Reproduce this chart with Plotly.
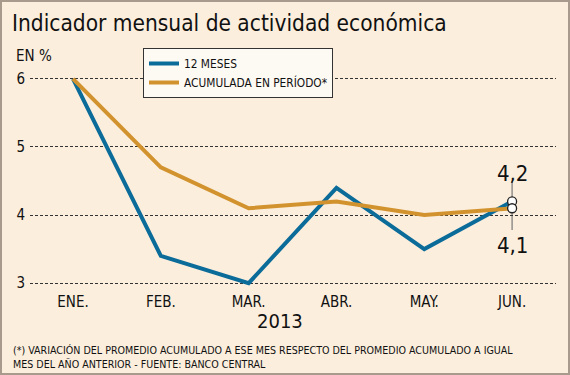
import plotly.graph_objects as go

months = ["ENE.", "FEB.", "MAR.", "ABR.", "MAY.", "JUN."]
doce_meses = [6.0, 3.4, 3.0, 4.4, 3.5, 4.2]
acumulada = [6.0, 4.7, 4.1, 4.2, 4.0, 4.1]
y_ticks = [3, 4, 5, 6]

BLUE = "#0b6b99"
ORANGE = "#d2932f"
BG = "#fbeedd"
FONT = "Liberation Sans Narrow, Arial Narrow, DejaVu Sans Condensed, Liberation Sans, sans-serif"

L, R, T, B = 30, 14, 72, 85
PW, PH = 570 - L - R, 375 - T - B

x = list(range(len(months)))
fig = go.Figure()
fig.add_trace(go.Scatter(x=x, y=doce_meses, mode="lines", name="12 MESES",
                         line=dict(color=BLUE, width=4), cliponaxis=False))
fig.add_trace(go.Scatter(x=x, y=acumulada, mode="lines", name="ACUMULADA EN PERÍODO*",
                         line=dict(color=ORANGE, width=4), cliponaxis=False))
fig.add_trace(go.Scatter(x=[x[-1], x[-1]], y=[doce_meses[-1], acumulada[-1]], mode="markers",
                         marker=dict(color="white", size=9, line=dict(color="#222222", width=1.3)),
                         showlegend=False, cliponaxis=False))

fig.add_shape(type="line", xref="x", yref="y", x0=x[-1], x1=x[-1], y0=3.78, y1=4.5,
              line=dict(color="#777777", width=1.2), layer="below")

fig.add_annotation(x=x[-1], y=doce_meses[-1], text=f"{doce_meses[-1]:.1f}".replace(".", ","),
                   showarrow=False, yshift=28, font=dict(size=22, color="#111111", family=FONT))
fig.add_annotation(x=x[-1], y=acumulada[-1], text=f"{acumulada[-1]:.1f}".replace(".", ","),
                   showarrow=False, yshift=-37, font=dict(size=22, color="#111111", family=FONT))

fig.add_annotation(xref="paper", yref="paper", x=(280 - L) / PW, y=-(321 - (375 - B)) / PH,
                   text="2013", showarrow=False, xanchor="center", yanchor="middle",
                   font=dict(size=20, color="#111111", family=FONT))
fig.add_annotation(xref="paper", yref="paper", x=(14 - L) / PW, y=1 + (T - 55.5) / PH,
                   text="EN %", showarrow=False, xanchor="left", yanchor="middle",
                   font=dict(size=15, color="#111111", family=FONT))
fig.add_annotation(xref="paper", yref="paper", x=(11 - L) / PW, y=-(342 - (375 - B)) / PH,
                   yanchor="top",
                   text="(*) VARIACIÓN DEL PROMEDIO ACUMULADO A ESE MES RESPECTO DEL PROMEDIO ACUMULADO A IGUAL<br>MES DEL AÑO ANTERIOR - FUENTE: BANCO CENTRAL",
                   showarrow=False, xanchor="left", align="left",
                   font=dict(size=10.6, color="#111111", family=FONT))

fig.update_layout(
    width=570, height=375,
    paper_bgcolor=BG, plot_bgcolor=BG,
    margin=dict(l=L, r=R, t=T, b=B),
    title=dict(text="Indicador mensual de actividad económica", x=12 / 570, xanchor="left",
               y=1 - 23 / 375, yanchor="middle",
               font=dict(size=22.5, color="#111111", family=FONT)),
    font=dict(family=FONT, color="#111111"),
    xaxis=dict(tickvals=x, ticktext=months, range=[-0.49, 5.5], showgrid=False,
               zeroline=False, showline=False, ticks="", tickfont=dict(size=15),
               ticklabelstandoff=1),
    yaxis=dict(tickvals=y_ticks, range=[2.9, 6.1], showgrid=True, gridcolor="#333333",
               griddash="3px,2px", gridwidth=1, zeroline=False, showline=False, ticks="",
               tickfont=dict(size=15), ticklabelstandoff=4),
    legend=dict(x=(143 - L) / PW, y=1 + (T - 48) / PH, xanchor="left", yanchor="top",
                bgcolor="#fdf9f3", bordercolor="#333333", borderwidth=1,
                font=dict(size=11.8, family=FONT), tracegroupgap=0, itemwidth=30),
    showlegend=True,
)
fig.add_shape(type="rect", xref="paper", yref="paper", x0=-L / PW, x1=1 + R / PW,
              y0=-B / PH, y1=1 + T / PH, line=dict(color="#a89a8c", width=4))

fig.write_html("out.html", config={"displayModeBar": False},
               post_script="document.body.style.margin='0';document.body.style.overflow='hidden';")
